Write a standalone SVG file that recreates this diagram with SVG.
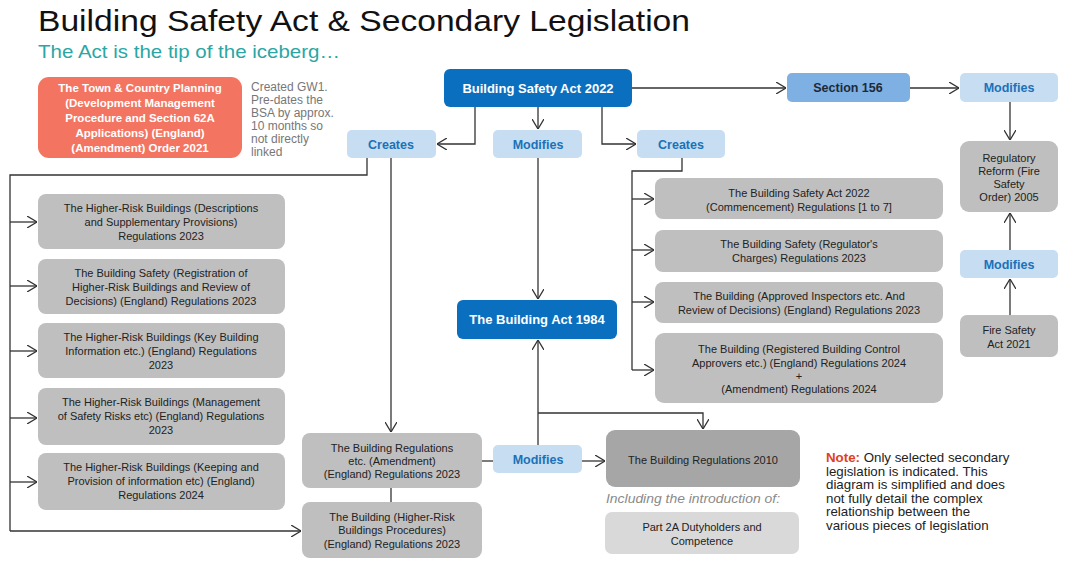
<svg xmlns="http://www.w3.org/2000/svg" width="1085" height="564" viewBox="0 0 1085 564">
<defs>
<marker id="ah" viewBox="0 0 10 12" refX="10" refY="6" markerWidth="10" markerHeight="12" markerUnits="userSpaceOnUse" orient="auto">
<path d="M0,0 L10,6 L0,12" fill="none" stroke="#333" stroke-width="1.3"/>
</marker>
<style>
.t{font-family:"Liberation Sans",Arial,sans-serif;}
.bx{font-family:"Liberation Sans",Arial,sans-serif;font-size:11px;fill:#222;text-anchor:middle;}
.lb{font-family:"Liberation Sans",Arial,sans-serif;font-size:12.5px;font-weight:bold;fill:#1b72b8;text-anchor:middle;}
.wb{font-family:"Liberation Sans",Arial,sans-serif;font-size:13px;font-weight:bold;fill:#fff;text-anchor:middle;}
.gray{fill:#bfbfbf;}
.lblue{fill:#c6ddf2;}
.dblue{fill:#0b6fbf;}
.c{fill:none;stroke:#333;stroke-width:1.3;}
.ca{fill:none;stroke:#333;stroke-width:1.3;marker-end:url(#ah);}
</style>
</defs>
<rect width="1085" height="564" fill="#fff"/>

<g id="title">
<text class="t" x="38" y="31" font-size="30" fill="#111" textLength="652" lengthAdjust="spacingAndGlyphs">Building Safety Act &amp; Secondary Legislation</text>
<text class="t" x="38" y="58" font-size="19" fill="#2aa7a5" textLength="302" lengthAdjust="spacingAndGlyphs">The Act is the tip of the iceberg…</text>
</g>

<g id="connectors">
<polyline class="ca" points="475,107 475,144 437,144"/>
<polyline class="ca" points="538,107 538,129"/>
<polyline class="ca" points="602,107 602,144 636,144"/>
<polyline class="ca" points="632,88 786,88"/>
<polyline class="ca" points="910,88 959,88"/>
<polyline class="ca" points="1010,102 1010,140"/>
<polyline class="ca" points="1010,250 1010,213"/>
<polyline class="ca" points="1010,315 1010,279"/>
<polyline class="c" points="367,158 367,175 10,175 10,531"/>
<polyline class="ca" points="10,222 37,222"/>
<polyline class="ca" points="10,286 37,286"/>
<polyline class="ca" points="10,351 37,351"/>
<polyline class="ca" points="10,418 37,418"/>
<polyline class="ca" points="10,482 37,482"/>
<polyline class="ca" points="10,531 301,531"/>
<polyline class="ca" points="391,158 391,432"/>
<polyline class="c" points="391,488 391,502"/>
<polyline class="ca" points="538,158 538,299"/>
<polyline class="ca" points="538,445 538,340"/>
<polyline class="ca" points="538,413 703,413 703,429"/>
<polyline class="c" points="482,461 493,461"/>
<polyline class="ca" points="582,461 605,461"/>
<polyline class="c" points="682,158 682,171 632,171 632,370"/>
<polyline class="ca" points="632,199 654,199"/>
<polyline class="ca" points="632,250 654,250"/>
<polyline class="ca" points="632,302 654,302"/>
<polyline class="ca" points="632,370 654,370"/>
</g>

<g id="tcp-order">
<rect x="38" y="77" width="204" height="81" rx="11" fill="#f37461"/>
<text class="wb" font-size="11.5" x="140" y="92" style="font-size:11.5px">The Town &amp; Country Planning</text>
<text class="wb" x="140" y="107" style="font-size:11.5px">(Development Management</text>
<text class="wb" x="140" y="122" style="font-size:11.5px">Procedure and Section 62A</text>
<text class="wb" x="140" y="137" style="font-size:11.5px">Applications) (England)</text>
<text class="wb" x="140" y="152" style="font-size:11.5px">(Amendment) Order 2021</text>
</g>
<g id="tcp-note" class="t" font-size="12" fill="#777">
<text x="251" y="91">Created GW1.</text>
<text x="251" y="104">Pre-dates the</text>
<text x="251" y="117">BSA by approx.</text>
<text x="251" y="130">10 months so</text>
<text x="251" y="143">not directly</text>
<text x="251" y="156">linked</text>
</g>

<g id="bsa2022">
<rect class="dblue" x="444" y="69" width="188" height="38" rx="6"/>
<text class="wb" x="538" y="93">Building Safety Act 2022</text>
</g>
<g id="creates-left">
<rect class="lblue" x="347" y="130" width="89" height="28" rx="5"/>
<text class="lb" x="391" y="149">Creates</text>
</g>
<g id="modifies-center">
<rect class="lblue" x="493" y="130" width="89" height="28" rx="5"/>
<text class="lb" x="538" y="149">Modifies</text>
</g>
<g id="creates-right">
<rect class="lblue" x="637" y="130" width="88" height="28" rx="5"/>
<text class="lb" x="681" y="149">Creates</text>
</g>
<g id="section156">
<rect x="787" y="73" width="123" height="29" rx="5" fill="#7fb0e3"/>
<text class="lb" x="848" y="92" style="fill:#1d2a3a">Section 156</text>
</g>
<g id="modifies-top-right">
<rect class="lblue" x="960" y="73" width="98" height="29" rx="5"/>
<text class="lb" x="1009" y="92">Modifies</text>
</g>
<g id="rrfso">
<rect class="gray" x="960" y="141" width="98" height="71" rx="9"/>
<text class="bx" x="1009" y="162">Regulatory</text>
<text class="bx" x="1009" y="175">Reform (Fire</text>
<text class="bx" x="1009" y="188">Safety</text>
<text class="bx" x="1009" y="201">Order) 2005</text>
</g>
<g id="modifies-mid-right">
<rect class="lblue" x="960" y="250" width="98" height="28" rx="5"/>
<text class="lb" x="1009" y="269">Modifies</text>
</g>
<g id="fsa2021">
<rect class="gray" x="960" y="315" width="98" height="42" rx="7"/>
<text class="bx" x="1009" y="334">Fire Safety</text>
<text class="bx" x="1009" y="348">Act 2021</text>
</g>

<g id="hrb-descriptions">
<rect class="gray" x="38" y="194" width="247" height="55" rx="8"/>
<text class="bx" x="161" y="212">The Higher-Risk Buildings (Descriptions</text>
<text class="bx" x="161" y="226">and Supplementary Provisions)</text>
<text class="bx" x="161" y="240">Regulations 2023</text>
</g>
<g id="bs-registration">
<rect class="gray" x="38" y="259" width="247" height="55" rx="8"/>
<text class="bx" x="161" y="277">The Building Safety (Registration of</text>
<text class="bx" x="161" y="291">Higher-Risk Buildings and Review of</text>
<text class="bx" x="161" y="305">Decisions) (England) Regulations  2023</text>
</g>
<g id="hrb-key-info">
<rect class="gray" x="38" y="323" width="247" height="55" rx="8"/>
<text class="bx" x="161" y="341">The Higher-Risk Buildings (Key Building</text>
<text class="bx" x="161" y="355">Information etc.) (England) Regulations</text>
<text class="bx" x="161" y="369">2023</text>
</g>
<g id="hrb-management">
<rect class="gray" x="38" y="388" width="247" height="57" rx="8"/>
<text class="bx" x="161" y="406">The Higher-Risk Buildings (Management</text>
<text class="bx" x="161" y="420">of Safety Risks etc) (England) Regulations</text>
<text class="bx" x="161" y="434">2023</text>
</g>
<g id="hrb-keeping">
<rect class="gray" x="38" y="453" width="247" height="57" rx="8"/>
<text class="bx" x="161" y="471">The Higher-Risk Buildings (Keeping and</text>
<text class="bx" x="161" y="485">Provision of information etc) (England)</text>
<text class="bx" x="161" y="499">Regulations 2024</text>
</g>

<g id="bsa-commencement">
<rect class="gray" x="655" y="178" width="288" height="41" rx="8"/>
<text class="bx" x="799" y="197">The Building Safety Act 2022</text>
<text class="bx" x="799" y="211">(Commencement) Regulations [1 to 7]</text>
</g>
<g id="bs-charges">
<rect class="gray" x="655" y="230" width="288" height="42" rx="8"/>
<text class="bx" x="799" y="248">The Building Safety (Regulator's</text>
<text class="bx" x="799" y="262">Charges) Regulations 2023</text>
</g>
<g id="approved-inspectors">
<rect class="gray" x="655" y="282" width="288" height="41" rx="8"/>
<text class="bx" x="799" y="300">The Building (Approved Inspectors etc. And</text>
<text class="bx" x="799" y="314">Review of Decisions) (England) Regulations 2023</text>
</g>
<g id="rbca">
<rect class="gray" x="655" y="333" width="288" height="70" rx="9"/>
<text class="bx" x="799" y="353">The Building (Registered Building Control</text>
<text class="bx" x="799" y="367">Approvers etc.) (England) Regulations 2024</text>
<text class="bx" x="799" y="380">+</text>
<text class="bx" x="799" y="393">(Amendment) Regulations 2024</text>
</g>

<g id="ba1984">
<rect class="dblue" x="457" y="300" width="160" height="39" rx="6"/>
<text class="wb" x="537" y="324">The Building Act 1984</text>
</g>

<g id="br-amendment">
<rect class="gray" x="302" y="433" width="180" height="55" rx="8"/>
<text class="bx" x="392" y="452">The Building Regulations</text>
<text class="bx" x="392" y="465">etc. (Amendment)</text>
<text class="bx" x="392" y="478">(England) Regulations 2023</text>
</g>
<g id="hrb-procedures">
<rect class="gray" x="302" y="502" width="180" height="56" rx="8"/>
<text class="bx" x="392" y="521">The Building (Higher-Risk</text>
<text class="bx" x="392" y="534">Buildings Procedures)</text>
<text class="bx" x="392" y="548">(England) Regulations 2023</text>
</g>
<g id="modifies-bottom">
<rect class="lblue" x="493" y="445" width="89" height="28" rx="5"/>
<text class="lb" x="538" y="464">Modifies</text>
</g>
<g id="br2010">
<rect x="606" y="430" width="194" height="57" rx="9" fill="#a6a6a6"/>
<text class="bx" x="703" y="464">The Building Regulations 2010</text>
</g>
<g id="including-label">
<text class="t" x="606" y="503" font-size="12.5" font-style="italic" fill="#8a8a8a" textLength="174" lengthAdjust="spacingAndGlyphs">Including the introduction of:</text>
</g>
<g id="part2a">
<rect x="605" y="512" width="194" height="42" rx="7" fill="#d9d9d9"/>
<text class="bx" x="702" y="531">Part 2A Dutyholders and</text>
<text class="bx" x="702" y="545">Competence</text>
</g>

<g id="note" class="t" font-size="13.3" fill="#222">
<text x="826" y="462"><tspan font-weight="bold" fill="#e2401c">Note:</tspan> Only selected secondary</text>
<text x="826" y="475.5">legislation is indicated. This</text>
<text x="826" y="489">diagram is simplified and does</text>
<text x="826" y="502.5">not fully detail the complex</text>
<text x="826" y="516">relationship between the</text>
<text x="826" y="529.5">various pieces of legislation</text>
</g>
</svg>
